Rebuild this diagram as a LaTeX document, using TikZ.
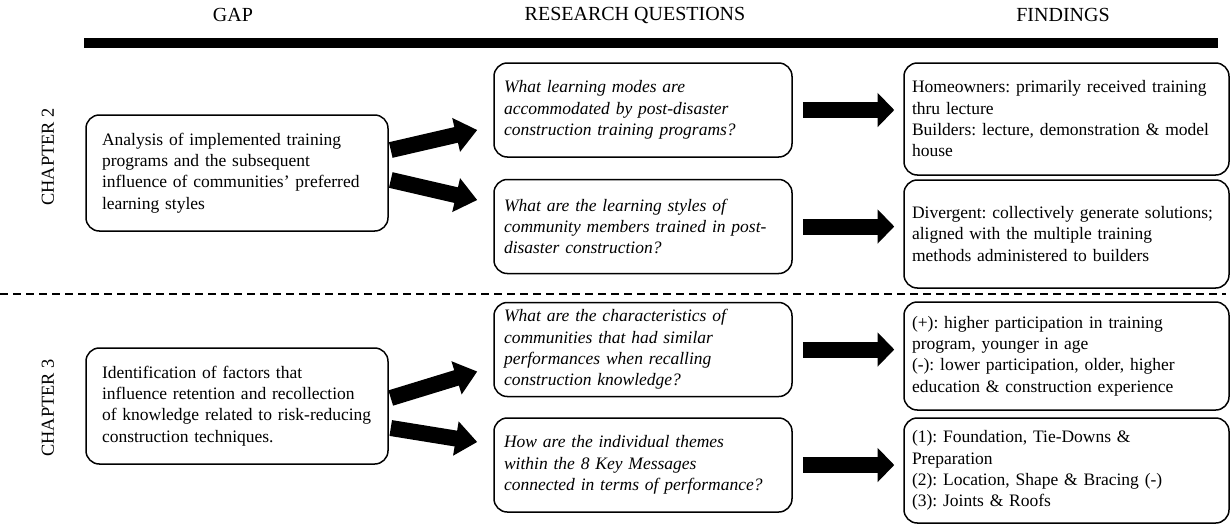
\documentclass[tikz,border=0pt]{standalone}
\usepackage{fontspec}
\setmainfont{Liberation Serif}
\frenchspacing
\usetikzlibrary{arrows.meta,calc}
\begin{document}
\begin{tikzpicture}[x=0.6pt,y=-0.6pt,
  box/.style={draw, line width=0.9pt, rounded corners=8pt, align=left, inner ysep=0pt, font=\fontsize{10.5}{12.8}\selectfont},
  gapbox/.style={box, minimum height=69.6pt, inner xsep=9.6pt, text width=162pt},
  rqbox/.style={box, minimum height=56.4pt, inner xsep=6pt, text width=166.8pt, font=\fontsize{10.5}{12.8}\selectfont\itshape},
  fbox/.style={box, inner xsep=4.8pt, text width=185.4pt},
  hdr/.style={font=\fontsize{12}{14}\selectfont},
  chap/.style={rotate=90, font=\fontsize{11}{13}\selectfont},
  fat/.style={line width=9.6pt, -{Triangle[length=13pt, width=20pt]}},
  fatr/.style={line width=9.6pt, -{Triangle[length=10pt, width=20pt]}},
  sep/.style={line width=1.3pt, dash pattern=on 4.8pt off 3pt}
]
\useasboundingbox (0,0) rectangle (1230,525);

% headers
\node[hdr] (hg) at (233,15) {GAP};
\node[hdr] (hq) at (635,15) {RESEARCH QUESTIONS};
\node[hdr] (hf) at (1063,15) {FINDINGS};
\coordinate (barL) at (84,43);
\coordinate (barR) at (1218,43);
\draw[line width=6pt] (barL) -- (barR);

% separator
\coordinate (sepL) at (0,294);
\coordinate (sepR) at (1226,294);
\draw[sep] (sepL) -- (sepR);

% chapter labels
\node[chap] (c2) at (48,157) {CHAPTER 2};
\node[chap] (c3) at (48,408) {CHAPTER 3};

% gap boxes
\node[gapbox] (L1) at (237,173) {Analysis of implemented training\\programs and the subsequent\\influence of communities’ preferred\\learning styles};
\node[gapbox] (L2) at (237,406) {Identification of factors that\\influence retention and recollection\\\mbox{of knowledge related to risk-reducing}\\construction techniques.};

% research questions
\node[rqbox] (Q1) at (643,110) {What learning modes are\\accommodated by post-disaster\\construction training programs?};
\node[rqbox] (Q2) at (643,226.5) {What are the learning styles of\\community members trained in post-\\disaster construction?};
\node[rqbox] (Q3) at (643,349.5) {What are the characteristics of\\communities that had similar\\performances when recalling\\construction knowledge?};
\node[rqbox] (Q4) at (643,465) {How are the individual themes\\within the 8 Key Messages\\connected in terms of performance?};

% findings
\node[fbox, minimum height=67.2pt] (F1) at (1066.5,119) {Homeowners: primarily received training\\thru lecture\\Builders: lecture, demonstration \& model\\house};
\node[fbox, minimum height=64.8pt] (F2) at (1066.5,234) {Divergent: collectively generate solutions;\\aligned with the multiple training\\methods administered to builders};
\node[fbox, minimum height=64.8pt] (F3) at (1066.5,356) {(+): higher participation in training\\program, younger in age\\(-): lower participation, older, higher\\education \& construction experience};
\node[fbox, minimum height=63pt] (F4) at (1066.5,470.5) {(1): Foundation, Tie-Downs \&\\Preparation\\(2): Location, Shape \& Bracing (-)\\(3): Joints \& Roofs};

% diagonal arrows
\draw[fat] ($(L1.east)+(2,-23)$) -- ($(Q1.west)+(-16,20)$);
\draw[fat] ($(L1.east)+(2,7)$) -- ($(Q2.west)+(-16,-26.5)$);
\draw[fat] ($(L2.east)+(2,-8)$) -- ($(Q3.west)+(-16,22)$);
\draw[fat] ($(L2.east)+(2,22)$) -- ($(Q4.west)+(-16,-23)$);

% right arrows
\draw[fatr] ($(Q1.east)+(10,0)$) -- ($(F1.west|-Q1.east)+(-9,0)$);
\draw[fatr] ($(Q2.east)+(10,0)$) -- ($(F2.west|-Q2.east)+(-9,0)$);
\draw[fatr] ($(Q3.east)+(10,0)$) -- ($(F3.west|-Q3.east)+(-9,0)$);
\draw[fatr] ($(Q4.east)+(10,0)$) -- ($(F4.west|-Q4.east)+(-9,0)$);
\end{tikzpicture}
\end{document}
